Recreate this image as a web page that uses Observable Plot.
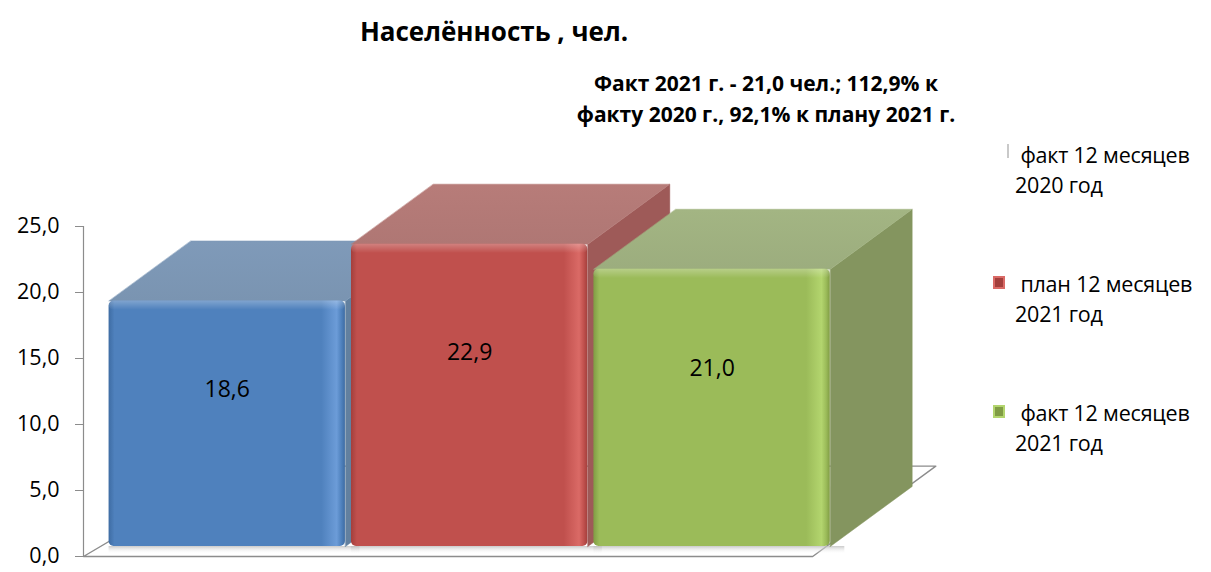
<!DOCTYPE html>
<html>
<head>
<meta charset="utf-8">
<script src="https://cdn.jsdelivr.net/npm/d3@7"></script>
<script src="https://cdn.jsdelivr.net/npm/@observablehq/plot@0.6"></script>
<style>
  html, body { margin: 0; padding: 0; background: #fff; }
  body { font-family: "Open Sans", sans-serif; color: #000; }
  #wrap { position: relative; width: 1211px; height: 572px; overflow: hidden; }
  #wrap svg.plot { position: absolute; left: 0; top: 0; }
  #title { position: absolute; left: 0; width: 988px; top: 14px; text-align: center;
           font-weight: bold; font-size: 26px; line-height: 34px; white-space: nowrap; }
  #subtitle { position: absolute; left: 516px; width: 500px; top: 68px; text-align: center;
              font-weight: bold; font-size: 21px; line-height: 31px; white-space: nowrap; }
  .leg { position: absolute; left: 0; width: 1211px; height: 60px; }
  .leg .mk { position: absolute; box-sizing: border-box; }
  .leg .tx { position: absolute; left: 1015px; font-size: 21.5px; letter-spacing: -0.2px; line-height: 30px; white-space: nowrap; }
</style>
</head>
<body>
<svg width="0" height="0" style="position:absolute">
  <defs id="defs"></defs>
</svg>
<div id="wrap">
  <div id="title"></div>
  <div id="subtitle"></div>
</div>
<script>
// ---------- data ----------
const categories = ["факт 12 месяцев 2020 год", "план 12 месяцев 2021 год", "факт 12 месяцев 2021 год"];
const legendLine1 = ["факт 12 месяцев", "план 12 месяцев", "факт 12 месяцев"];
const legendLine2 = ["2020 год", "2021 год", "2021 год"];
const values = [18.6, 22.9, 21.0];
const yTicks = [0, 5, 10, 15, 20, 25];
const titleText = "Населённость , чел.";
const subtitleLines = ["Факт 2021 г. - 21,0 чел.; 112,9% к", "факту 2020 г., 92,1% к плану 2021 г."];

// ---------- styles ----------
const frontColors = ["#4F81BD", "#C0504D", "#9BBB59"];
const frontLight  = ["#6C9CD8", "#DA6A66", "#B3D56E"];
const frontDark   = ["#3E6CA3", "#A33F3C", "#809C44"];
const topColors   = ["#7F9AB9", "#B77C79", "#A3B583"];
const sideColors  = ["#62809F", "#9E5A58", "#84955F"];

const fmt = d => d.toFixed(1).replace(".", ",");

// ---------- gradients ----------
const defs = d3.select("#defs");
frontColors.forEach((c, i) => {
  const g = defs.append("linearGradient").attr("id", "front" + i)
    .attr("x1", "0").attr("x2", "1").attr("y1", "0").attr("y2", "0");
  [[0, frontDark[i]], [0.025, c], [0.9, c], [0.965, frontLight[i]], [0.985, c], [1, frontDark[i]]]
    .forEach(([o, col]) => g.append("stop").attr("offset", o).attr("stop-color", col));
  const t = defs.append("linearGradient").attr("id", "top" + i)
    .attr("x1", "0").attr("x2", "0").attr("y1", "0").attr("y2", "1");
  [[0, topColors[i]], [1, d3.color(topColors[i]).darker(0.12).formatHex()]]
    .forEach(([o, col]) => t.append("stop").attr("offset", o).attr("stop-color", col));
});
{
  const h = defs.append("linearGradient").attr("id", "hl")
    .attr("x1", "0").attr("x2", "0").attr("y1", "0").attr("y2", "1");
  h.append("stop").attr("offset", 0).attr("stop-color", "#fff").attr("stop-opacity", 0.28);
  h.append("stop").attr("offset", 1).attr("stop-color", "#fff").attr("stop-opacity", 0);
  const s = defs.append("linearGradient").attr("id", "shadow")
    .attr("x1", "0").attr("x2", "0").attr("y1", "0").attr("y2", "1");
  s.append("stop").attr("offset", 0).attr("stop-color", "#bdbdbd").attr("stop-opacity", 0.8);
  s.append("stop").attr("offset", 1).attr("stop-color", "#ffffff").attr("stop-opacity", 0);
}

// ---------- geometry (category units / value units) ----------
const xMin = -0.593, xMax = 3.0;      // x domain (axis sits at xMin)
const halfGap = 0.0125;               // gap between adjacent bars
const depthX = 0.338, depthY = 4.55;  // 3D depth of the bars
const barLift = -10;                  // bars stand slightly behind the front edge of the floor (px)
const floorRight = categories.length - 0.5 - 0.085;
const floorDX = 0.508, floorDY = 6.85, floorDXL = 0.632;

const rows = categories.map((c, i) => ({i, c, v: values[i], x0: i - 0.5 + halfGap, x1: i + 0.5 - halfGap}));

const marks = [];
// floor outline
marks.push(Plot.line([
  {x: xMin, y: 0}, {x: floorRight, y: 0}, {x: floorRight + floorDX, y: floorDY},
  {x: xMin + floorDXL, y: floorDY}, {x: xMin, y: 0}
], {x: "x", y: "y", stroke: "#8C8C8C", strokeWidth: 1.4, curve: "linear"}));
// axis line
marks.push(Plot.ruleX([xMin], {y1: 0, y2: yTicks[yTicks.length - 1], stroke: "#8C8C8C", strokeWidth: 1.2}));
marks.push(Plot.axisY({ticks: yTicks, tickFormat: fmt, tickSize: 8, tickPadding: 16,
  stroke: "#8C8C8C", fill: "#000", fontSize: 21.5}));
// shadow under bars
marks.push(Plot.rect(rows, {x1: "x0", x2: d => d.x1 + 0.06, y1: -0.6, y2: 0, dy: barLift, fill: "url(#shadow)"}));

rows.forEach(r => {
  const side = [
    {x: r.x1, y: 0}, {x: r.x1 + depthX, y: depthY},
    {x: r.x1 + depthX, y: r.v + depthY}, {x: r.x1, y: r.v}
  ];
  const top = [
    {x: r.x0, y: r.v}, {x: r.x1, y: r.v},
    {x: r.x1 + depthX, y: r.v + depthY}, {x: r.x0 + depthX, y: r.v + depthY}
  ];
  marks.push(Plot.line(side, {x: "x", y: "y", curve: "linear-closed", fill: sideColors[r.i], stroke: sideColors[r.i], strokeWidth: 0.5, dy: barLift}));
  marks.push(Plot.line(top, {x: "x", y: "y", curve: "linear-closed", fill: `url(#top${r.i})`, stroke: topColors[r.i], strokeWidth: 0.5, dy: barLift}));
  marks.push(Plot.rect([r], {x1: "x0", x2: "x1", y1: 0, y2: "v", dy: barLift, rx: 5, fill: `url(#front${r.i})`}));
  marks.push(Plot.rect([r], {x1: "x0", x2: "x1", y1: d => d.v - 0.7, y2: "v", dy: barLift, rx: 5, fill: "url(#hl)"}));
});

// value labels
marks.push(Plot.text(rows, {x: "i", y: d => d.v * 0.64, text: d => fmt(d.v), dy: barLift, fontSize: 23, fill: "#000"}));

const svg = Plot.plot({
  width: 1211,
  height: 572,
  marginLeft: 83,
  marginRight: 257,
  marginTop: 226,
  marginBottom: 16,
  style: {fontFamily: "Open Sans, sans-serif", fontSize: "21.5px", background: "transparent", color: "#000"},
  x: {type: "linear", domain: [xMin, xMax], axis: null},
  y: {type: "linear", domain: [0, 25], axis: null},
  marks
});
svg.classList.add("plot");
const wrap = document.getElementById("wrap");
wrap.insertBefore(svg, wrap.firstChild);

// ---------- titles ----------
document.getElementById("title").textContent = titleText;
const sub = document.getElementById("subtitle");
subtitleLines.forEach((l, k) => { const d = document.createElement("div"); d.textContent = l; sub.appendChild(d); });

// ---------- legend ----------
const legendTop = 140, legendStep = 129;
categories.forEach((c, i) => {
  const item = document.createElement("div");
  item.className = "leg";
  item.style.top = (legendTop + legendStep * i) + "px";
  const mk = document.createElement("div");
  mk.className = "mk";
  if (i === 0) {
    Object.assign(mk.style, {left: "1007px", top: "4px", width: "2px", height: "14px", background: "#C9C9C9"});
  } else {
    Object.assign(mk.style, {left: "993px", top: "7px", width: "12px", height: "13px",
      background: frontDark[i], border: "2px solid " + frontLight[i]});
  }
  item.appendChild(mk);
  const t1 = document.createElement("div"); t1.className = "tx"; t1.style.top = "0px";
  t1.textContent = "\u00a0" + legendLine1[i];
  const t2 = document.createElement("div"); t2.className = "tx"; t2.style.top = "30px";
  t2.textContent = legendLine2[i];
  item.appendChild(t1); item.appendChild(t2);
  wrap.appendChild(item);
});
</script>
</body>
</html>
